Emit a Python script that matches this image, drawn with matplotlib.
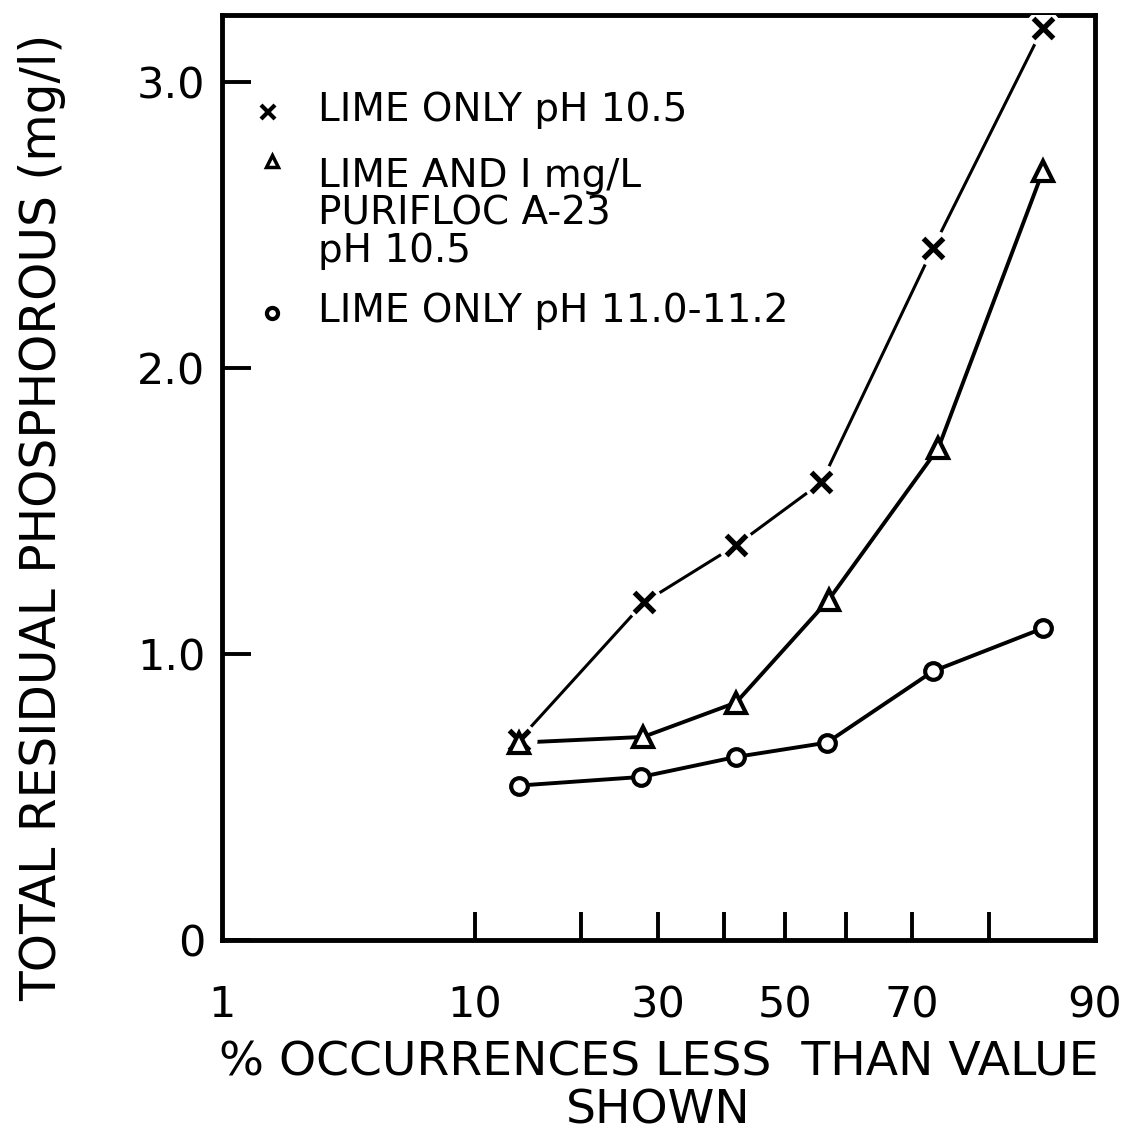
import numpy as np
import matplotlib
matplotlib.use('Agg')
import matplotlib.pyplot as plt
from statistics import NormalDist

# escala de probabilidade normal para o eixo x (em %)
_nd = NormalDist()

def prob_fwd(p):
    p = np.clip(np.asarray(p, dtype=float) / 100.0, 1e-6, 1 - 1e-6)
    return np.vectorize(_nd.inv_cdf)(p)

def prob_inv(z):
    return np.vectorize(_nd.cdf)(np.asarray(z, dtype=float)) * 100.0

# dados
pct_x = [13.6, 28.0, 42.0, 56.0, 73.0, 85.7]
lime_105 = [0.70, 1.18, 1.38, 1.60, 2.42, 3.19]

pct_tri = [13.6, 27.9, 42.0, 57.2, 73.7, 85.7]
lime_purifloc = [0.69, 0.71, 0.83, 1.19, 1.72, 2.69]

pct_circ = [13.6, 27.6, 42.0, 56.9, 73.0, 85.7]
lime_110 = [0.54, 0.57, 0.64, 0.69, 0.94, 1.09]

xticks_major = [1, 10, 30, 50, 70, 90]
xticks_minor = [20, 40, 60, 80]
yticks = [0, 1.0, 2.0, 3.0]
ytick_labels = ['0', '1.0', '2.0', '3.0']

plt.rcParams['font.family'] = 'DejaVu Sans'

fig = plt.figure(figsize=(11.28, 11.36), dpi=100)
ax = fig.add_axes([222/1128, 1 - 940/1136, (1095-222)/1128, (940-15)/1136])

ax.set_xscale('function', functions=(prob_fwd, prob_inv))
ax.set_xlim(1, 90)
ax.set_ylim(0, 3.234)

lw = 2.8
# serie x: linha com falhas perto dos marcadores
ax.plot(pct_x, lime_105, '-', color='black', lw=2.2, zorder=2)
ax.plot(pct_x, lime_105, 'o', ms=26, mfc='white', mec='none', zorder=3)
ax.plot(pct_x, lime_105, 'x', ms=15, mew=3.8, color='black', zorder=4)

ax.plot(pct_tri, lime_purifloc, '-', color='black', lw=lw, zorder=2)
ax.plot(pct_tri, lime_purifloc, '^', ms=14, mew=3, mfc='white', mec='black', zorder=4)

ax.plot(pct_circ, lime_110, '-', color='black', lw=lw, zorder=2)
ax.plot(pct_circ, lime_110, 'o', ms=12, mew=3, mfc='white', mec='black', zorder=4)

# legenda manual
leg_fs = 28
ax.plot([0.053], [0.895], 'x', ms=10, mew=3, color='black', transform=ax.transAxes, clip_on=False)
ax.text(0.11, 0.897, 'LIME ONLY pH 10.5', fontsize=leg_fs, va='center', transform=ax.transAxes)
ax.plot([0.057], [0.842], '^', ms=9, mew=2.5, mfc='white', mec='black', transform=ax.transAxes, clip_on=False)
ax.text(0.11, 0.846, 'LIME AND I mg/L\nPURIFLOC A-23\npH 10.5', fontsize=leg_fs, va='top',
        linespacing=0.98, transform=ax.transAxes)
ax.plot([0.057], [0.678], 'o', ms=8, mew=3, mfc='white', mec='black', transform=ax.transAxes, clip_on=False)
ax.text(0.11, 0.680, 'LIME ONLY pH 11.0-11.2', fontsize=leg_fs, va='center', transform=ax.transAxes)

# eixos
ax.set_xticks(xticks_major)
ax.set_xticklabels([str(v) for v in xticks_major], fontsize=31)
ax.set_xticks(xticks_minor, minor=True)
ax.set_yticks(yticks)
ax.set_yticklabels(ytick_labels, fontsize=31)
ax.tick_params(axis='both', which='both', direction='in', width=2.8, color='black')
ax.tick_params(axis='x', which='both', length=20, pad=32)
ax.tick_params(axis='y', length=21, pad=12)
# sem marca no 1 e no 90 (coincidem com as bordas)
for t in ax.xaxis.get_major_ticks():
    if t.get_loc() in (1, 90):
        t.tick1line.set_visible(False)

for s in ax.spines.values():
    s.set_linewidth(3.5)

ax.set_xlabel('% OCCURRENCES LESS  THAN VALUE\nSHOWN', fontsize=34, labelpad=10, linespacing=1.1)
fig.text(42/1128, 1 - 517/1136, 'TOTAL RESIDUAL PHOSPHOROUS (mg/l)', rotation=90,
         fontsize=35, ha='center', va='center')

fig.savefig('out.png', dpi=100)
